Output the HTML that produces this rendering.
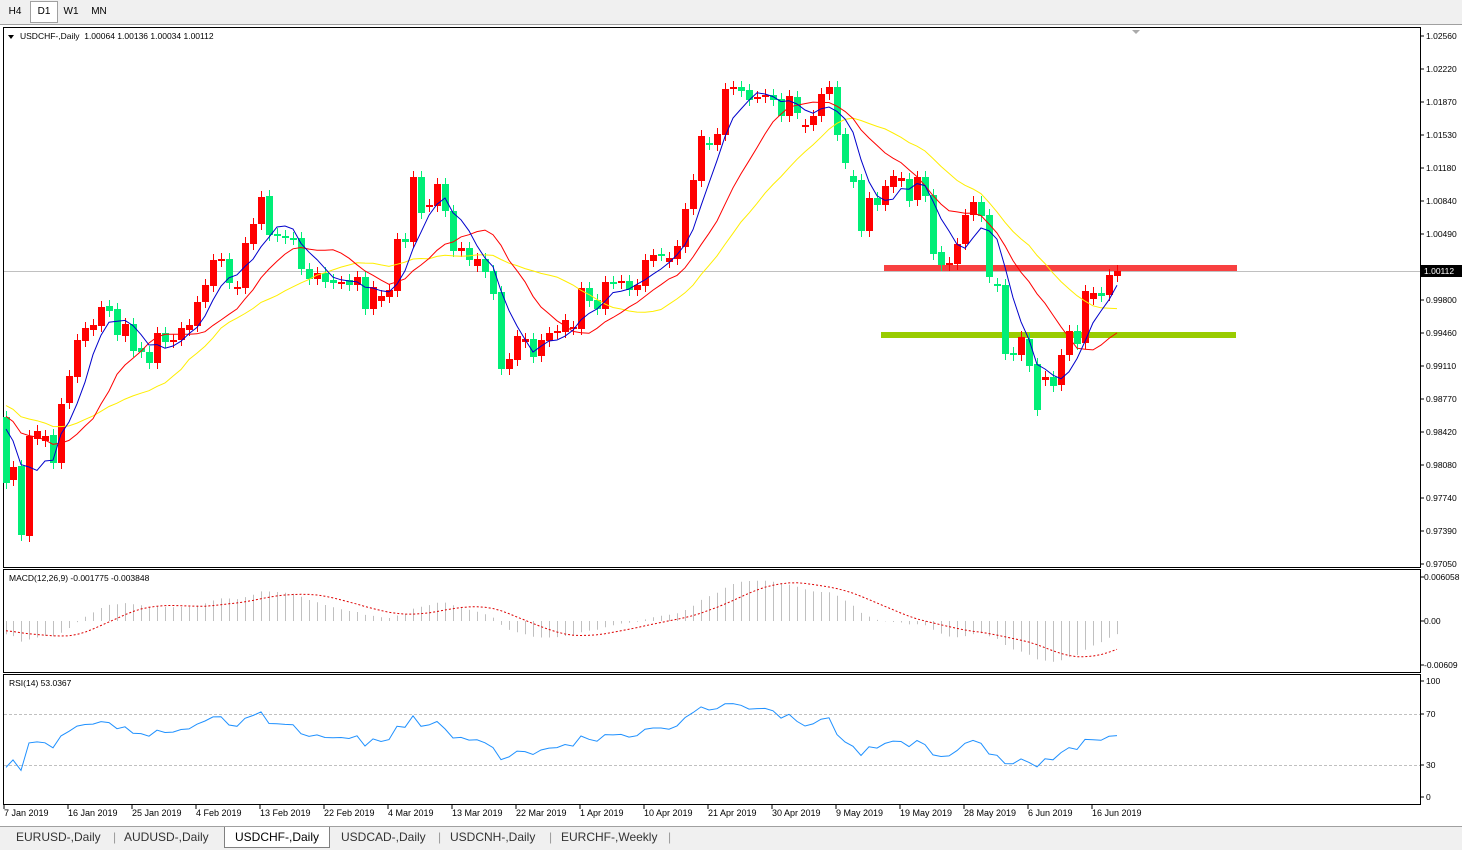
<!DOCTYPE html>
<html><head><meta charset="utf-8"><style>
body{margin:0;width:1462px;height:849px;background:#fff;font-family:"Liberation Sans",sans-serif;overflow:hidden;position:relative}
.tb{position:absolute;left:0;top:0;width:1462px;height:24px;background:#f0f0f0;border-bottom:1px solid #a0a0a0}
.tab{position:absolute;top:2px;height:20px;font-size:10px;line-height:20px;text-align:center;color:#000}
.bt{position:absolute;left:0;top:826px;width:1462px;height:23px;background:#f0f0f0;border-top:1px solid #a0a0a0}
.btab{position:absolute;top:3px;font-size:12px;color:#333}
</style></head><body>
<div class="tb">
<div class="tab" style="left:2px;width:26px">H4</div>
<div class="tab" style="left:30px;width:26px;background:#fff;border:1px solid #a0a0a0;top:1px">D1</div>
<div class="tab" style="left:58px;width:26px">W1</div>
<div class="tab" style="left:86px;width:26px">MN</div>
</div>
<svg id="s" width="1462" height="849" style="position:absolute;left:0;top:0" font-family="Liberation Sans, sans-serif"></svg>
<div class="bt">
<span class="btab" style="left:16px">EURUSD-,Daily</span><span class="btab" style="left:113px;color:#999">|</span>
<span class="btab" style="left:124px">AUDUSD-,Daily</span>
<span class="btab" style="left:224px;top:0;background:#fff;border:1px solid #808080;border-top:none;padding:3px 10px;color:#000">USDCHF-,Daily</span>
<span class="btab" style="left:341px">USDCAD-,Daily</span><span class="btab" style="left:438px;color:#999">|</span>
<span class="btab" style="left:450px">USDCNH-,Daily</span><span class="btab" style="left:549px;color:#999">|</span>
<span class="btab" style="left:561px">EURCHF-,Weekly</span><span class="btab" style="left:668px;color:#999">|</span>
</div>
<script>
var C=[[6,417,483,'g'],[13,480,467,'r'],[21,466,535,'g'],[29,536,436,'r'],[37,439,431,'r'],[45,441,436,'r'],[53,435,463,'g'],[61,463,404,'r'],[69,403,376,'r'],[77,377,340,'r'],[85,341,328,'r'],[93,330,325,'r'],[101,326,307,'r'],[109,306,311,'g'],[117,309,335,'g'],[125,336,324,'r'],[133,324,351,'g'],[141,348,352,'g'],[149,352,363,'g'],[157,363,333,'r'],[165,333,342,'g'],[173,342,340,'r'],[181,340,328,'r'],[189,330,325,'r'],[197,326,302,'r'],[205,302,285,'r'],[213,286,260,'r'],[221,261,259,'r'],[229,259,283,'g'],[237,289,287,'r'],[245,288,243,'r'],[253,244,224,'r'],[261,224,197,'r'],[269,196,235,'g'],[277,234,236,'g'],[285,236,238,'g'],[293,238,239,'g'],[301,238,269,'g'],[309,269,279,'g'],[317,279,273,'r'],[325,273,282,'g'],[333,280,283,'g'],[341,283,282,'r'],[349,280,285,'g'],[357,285,277,'r'],[365,277,309,'g'],[373,309,287,'r'],[381,301,296,'r'],[389,297,290,'r'],[397,291,239,'r'],[405,239,242,'g'],[413,242,177,'r'],[421,177,213,'g'],[429,206,205,'r'],[437,206,184,'r'],[445,184,211,'g'],[453,211,251,'g'],[461,251,248,'r'],[469,248,260,'g'],[477,266,259,'r'],[485,259,272,'g'],[493,271,294,'g'],[501,292,369,'g'],[509,369,359,'r'],[517,360,336,'r'],[525,342,339,'r'],[533,339,357,'g'],[541,356,340,'r'],[549,341,333,'r'],[557,333,331,'r'],[565,332,320,'r'],[573,329,327,'r'],[581,329,288,'r'],[589,288,301,'g'],[597,300,309,'g'],[605,309,282,'r'],[613,282,283,'g'],[621,283,281,'r'],[629,281,290,'g'],[637,290,285,'r'],[645,286,260,'r'],[653,261,255,'r'],[661,254,255,'g'],[669,262,258,'r'],[677,259,246,'r'],[685,247,209,'r'],[693,209,180,'r'],[701,181,136,'r'],[709,143,144,'g'],[717,145,134,'r'],[725,135,89,'r'],[733,89,87,'r'],[741,87,91,'g'],[749,90,100,'g'],[757,97,97,'r'],[765,97,95,'r'],[773,95,100,'g'],[781,99,116,'g'],[789,116,96,'r'],[797,97,113,'g'],[805,127,125,'r'],[813,125,116,'r'],[821,116,94,'r'],[829,94,87,'r'],[837,87,135,'g'],[845,134,163,'g'],[853,176,182,'g'],[861,180,231,'g'],[869,231,198,'r'],[877,198,205,'g'],[885,205,186,'r'],[893,187,176,'r'],[901,181,178,'r'],[909,179,201,'g'],[917,200,177,'r'],[925,177,196,'g'],[933,195,254,'g'],[941,252,265,'g'],[949,265,263,'r'],[957,264,244,'r'],[965,244,215,'r'],[973,215,202,'r'],[981,202,216,'g'],[989,215,277,'g'],[997,284,286,'g'],[1005,285,354,'g'],[1013,353,355,'g'],[1021,355,337,'r'],[1029,339,366,'g'],[1037,364,410,'g'],[1045,380,377,'r'],[1053,377,386,'g'],[1061,385,355,'r'],[1069,355,331,'r'],[1077,331,344,'g'],[1085,343,291,'r'],[1093,299,293,'r'],[1101,293,296,'g'],[1109,295,275,'r'],[1117,276,271,'r']];
var s='',N=C.length;
function L(x1,y1,x2,y2,c,w,d){return '<line x1="'+x1+'" y1="'+y1+'" x2="'+x2+'" y2="'+y2+'" stroke="'+c+'" stroke-width="'+(w||1)+'"'+(d?' stroke-dasharray="'+d+'"':'')+'/>';}
function T(x,y,t,sz,c){return '<text x="'+x+'" y="'+y+'" font-size="'+(sz||9)+'" fill="'+(c||'#000')+'">'+t+'</text>';}
s+='<rect x="3.5" y="27.5" width="1417" height="540" fill="#fff" stroke="#000"/>';
s+='<rect x="3.5" y="569.5" width="1417" height="103" fill="#fff" stroke="#000"/>';
s+='<rect x="3.5" y="674.5" width="1417" height="130" fill="#fff" stroke="#000"/>';
s+='<polygon points="1132,30 1140,30 1136,34" fill="#aaa"/>';
var pl=[['1.02560',36],['1.02220',69],['1.01870',102],['1.01530',135],['1.01180',168],['1.00840',201],['1.00490',234],['1.00150',268],['0.99800',300],['0.99460',333],['0.99110',366],['0.98770',399],['0.98420',432],['0.98080',465],['0.97740',498],['0.97390',531],['0.97050',564]];
pl.forEach(function(p){s+=L(1420,p[1],1424,p[1],'#000')+T(1426,p[1]+3,p[0],8.5);});
var dl=['7 Jan 2019','16 Jan 2019','25 Jan 2019','4 Feb 2019','13 Feb 2019','22 Feb 2019','4 Mar 2019','13 Mar 2019','22 Mar 2019','1 Apr 2019','10 Apr 2019','21 Apr 2019','30 Apr 2019','9 May 2019','19 May 2019','28 May 2019','6 Jun 2019','16 Jun 2019'];
dl.forEach(function(d,i){var x=4+i*64;s+=L(x,805,x,809,'#000')+T(x,816,d,9);});
s+=L(4,271.5,1420,271.5,'#c0c0c0');
s+='<rect x="884" y="265" width="353" height="6" fill="#f84040"/>';
s+='<rect x="881" y="332" width="355" height="6" fill="#99cc00"/>';
// virtual history (declining price before chart start)
var H=40,all=[];
for(var i=0;i<H;i++){all.push(345+75*i/(H-1)+((i%3)-1)*6);}
C.forEach(function(c){var x=c[0],o=c[1],cc=c[2],col=c[3]=='r'?'#ff0000':'#00ee77';var t=Math.min(o,cc),b=Math.max(o,cc);
s+=L(x+.5,t-6,x+.5,b+6,col);s+='<rect x="'+(x-3)+'" y="'+t+'" width="7" height="'+Math.max(b-t,2)+'" fill="'+col+'"/>';all.push(cc);});
function sma(n){var r=[];for(var i=H;i<all.length;i++){var a=0;for(var j=i-n+1;j<=i;j++)a+=all[j];r.push(a/n);}return r;}
function pline(arr,col){var p='';for(var i=0;i<N;i++)p+=(i==0?'M':'L')+C[i][0]+','+arr[i].toFixed(1);return '<path d="'+p+'" fill="none" stroke="'+col+'"/>';}
s+=pline(sma(21),'#ffee00')+pline(sma(12),'#ff0000')+pline(sma(5),'#0000cc');
s+='<rect x="1421" y="265" width="41" height="12" fill="#000"/>'+T(1424,274,'1.00112',8.5,'#fff');
s+='<polygon points="8,35 14,35 11,39" fill="#000"/>'+T(20,39,'USDCHF-,Daily&#160; 1.00064 1.00136 1.00034 1.00112',8.5);
// MACD
var pr=all.map(function(y){return 1.0256-(y-36)/9582;});
function ema(a,n){var k=2/(n+1),r=[a[0]];for(var i=1;i<a.length;i++)r.push(a[i]*k+r[i-1]*(1-k));return r;}
var e12=ema(pr,12),e26=ema(pr,26),m=[];for(var i=0;i<pr.length;i++)m.push(e12[i]-e26[i]);
var sg=[];for(var i=0;i<pr.length;i++){var a=0,k=0;for(var j=Math.max(0,i-8);j<=i;j++){a+=m[j];k++;}sg.push(a/k);}
function my(v){return Math.max(572,Math.min(670,621-v/0.006*44));}
for(var i=0;i<N;i++)s+=L(C[i][0]+.5,621,C[i][0]+.5,my(m[i+H]).toFixed(1),'#c0c0c0');
var p='';for(var i=0;i<N;i++)p+=(i?'L':'M')+C[i][0]+','+my(sg[i+H]).toFixed(1);s+='<path d="'+p+'" fill="none" stroke="#dd0000" stroke-dasharray="2,2"/>';
s+=T(9,581,'MACD(12,26,9) -0.001775 -0.003848',8.5);
s+=L(1420,577,1424,577,'#000')+T(1424,580,'0.006058',8.5)+L(1420,621,1424,621,'#000')+T(1424,624,'0.00',8.5)+L(1420,665,1424,665,'#000')+T(1424,668,'-0.00609',8.5);
// RSI
var rs=[],ag=0,al=0;for(var i=1;i<pr.length;i++){var d=pr[i]-pr[i-1],g=d>0?d:0,l=d<0?-d:0;if(i<=14){ag+=g/14;al+=l/14;}else{ag=(ag*13+g)/14;al=(al*13+l)/14;}rs[i]=(al==0?100:100-100/(1+ag/al));}
function ry(v){return 797-v*1.16;}
s+=L(4,714.5,1420,714.5,'#c0c0c0',1,'3,2')+L(4,765.5,1420,765.5,'#c0c0c0',1,'3,2');
p='';for(var i=0;i<N;i++){p+=(i?'L':'M')+C[i][0]+','+ry(rs[i+H]).toFixed(1);}s+='<path d="'+p+'" fill="none" stroke="#1e90ff"/>';
s+=T(9,686,'RSI(14) 53.0367',8.5);
[['100',681],['70',714],['30',765],['0',797]].forEach(function(q){s+=L(1420,q[1],1424,q[1],'#000')+T(1426,q[1]+3,q[0],8.5);});
document.getElementById('s').innerHTML=s;
</script>
</body></html>
